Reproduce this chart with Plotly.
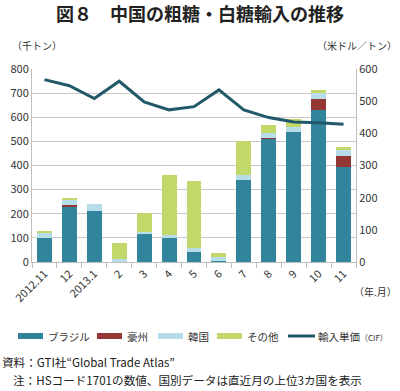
import plotly.graph_objects as go

months = ["2012.11", "12", "2013.1", "2", "3", "4", "5", "6", "7", "8", "9", "10", "11"]
brazil = [98, 232, 213, 0, 115, 100, 42, 5, 341, 512, 540, 629, 394]
australia = [0, 3, 0, 0, 0, 0, 0, 0, 0, 2, 0, 48, 44]
korea = [24, 25, 28, 12, 10, 13, 15, 16, 18, 19, 20, 23, 25]
other = [6, 7, 0, 68, 78, 247, 280, 18, 142, 33, 31, 11, 13]
price = [567, 548, 508, 562, 498, 473, 483, 535, 473, 449, 435, 433, 428]

names = ["ブラジル", "豪州", "韓国", "その他"]
colors = ["#31849B", "#953735", "#B7DEE8", "#C3D86B"]
line_name = "輸入単価"
line_color = "#215968"

JP = "Noto Sans CJK JP"
W, H = 400, 391
L, R, T, B = 32, 44, 69, 129
PW, PH = W - L - R, H - T - B

def px(x):
    return (x - L) / PW

def py(y):
    return (H - B - y) / PH

fig = go.Figure()
for name, vals, col in zip(names, [brazil, australia, korea, other], colors):
    fig.add_trace(go.Bar(x=months, y=vals, name=name, marker=dict(color=col, line=dict(width=0)), width=0.6))
fig.add_trace(go.Scatter(x=months, y=price, name=line_name, yaxis="y2",
                         mode="lines", line=dict(color=line_color, width=3)))

fig.update_layout(
    width=W, height=H, barmode="stack", plot_bgcolor="white", paper_bgcolor="white",
    margin=dict(l=L, r=R, t=T, b=B, autoexpand=False),
    font=dict(family=JP, size=11, color="#333333"),
    showlegend=False,
    xaxis=dict(type="category", tickangle=-45, showline=True, linecolor="#BFBFBF",
               ticks="outside", tickson="boundaries", ticklen=5, tickcolor="#BFBFBF",
               tickfont=dict(size=11), showgrid=False, automargin=False),
    yaxis=dict(range=[0, 800], dtick=100, showgrid=True, gridcolor="#C8C8C8", showline=True,
               linecolor="#BFBFBF", tickfont=dict(size=11), zeroline=False, automargin=False),
    yaxis2=dict(range=[0, 600], dtick=100, overlaying="y", side="right", showgrid=False,
                showline=True, linecolor="#BFBFBF", tickfont=dict(size=11), zeroline=False,
                automargin=False),
)

def ann(text, x, y, anchor="left", size=10, color="#333333"):
    fig.add_annotation(text=text, xref="paper", yref="paper", x=px(x), y=py(y), xanchor=anchor,
                       yanchor="middle", showarrow=False, font=dict(size=size, color=color, family=JP))

ann("<b>図８　中国の粗糖・白糖輸入の推移</b>", 200, 13, "center", 18, "#222222")
ann("（千トン）", 10, 45, "left", 10)
ann("（米ドル／トン）", 399, 45, "right", 10)
ann("（年.月）", 399, 291, "right", 10)

# legend
leg_y = 336
items_x = [18, 97, 158, 217]
for name, col, x0 in zip(names, colors, items_x):
    fig.add_shape(type="rect", xref="paper", yref="paper", x0=px(x0), x1=px(x0 + 25),
                  y0=py(leg_y + 3), y1=py(leg_y - 3), fillcolor=col, line=dict(width=0))
    ann(name, x0 + 28, leg_y, "left", 10.5)
fig.add_shape(type="line", xref="paper", yref="paper", x0=px(288), x1=px(315),
              y0=py(leg_y), y1=py(leg_y), line=dict(color=line_color, width=3))
ann(line_name + "<span style='font-size:8px'>（CIF）</span>", 316, leg_y, "left", 10.5)

ann("資料：GTI社“Global Trade Atlas”", 0, 362, "left", 11.6, "#222222")
ann("注：HSコード1701の数値、国別データは直近月の上位3カ国を表示", 11, 380, "left", 11.6, "#222222")
fig.write_html("out.html", config={"displayModeBar": False},
               post_script="document.body.style.margin='0';document.body.style.overflow='hidden';")
